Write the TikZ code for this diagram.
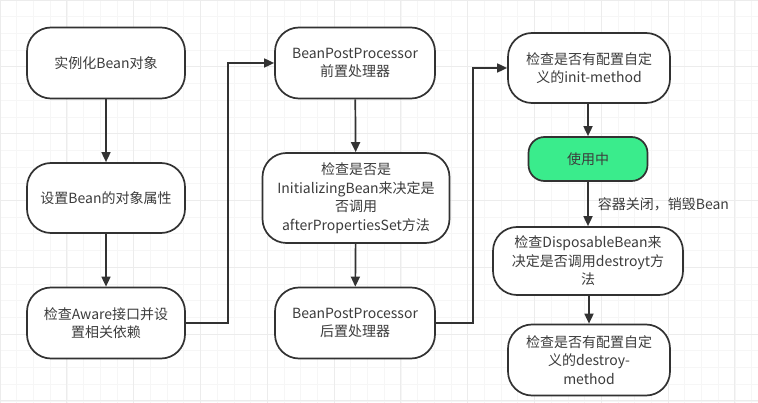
\documentclass[tikz,border=0pt]{standalone}
\usepackage{fontspec}
\setmainfont{Noto Sans CJK SC}
\usetikzlibrary{arrows.meta}
\definecolor{gridminor}{RGB}{246,246,246}
\definecolor{gridmajor}{RGB}{236,236,236}
\definecolor{usegreen}{RGB}{58,236,140}
\definecolor{txt}{RGB}{60,60,60}
\definecolor{edge}{RGB}{50,50,50}
\begin{document}
\begin{tikzpicture}[x=1pt,y=-1pt,
  box/.style={draw=edge,line width=1.7pt,rounded corners=24pt,fill=white,
    align=center,text=txt,font=\fontsize{14}{18.5}\selectfont,inner sep=2pt},
  link/.style={draw=edge,line width=1.7pt,-{Triangle[length=10pt,width=9pt]}},
  lbl/.style={text=txt,font=\fontsize{14}{18.5}\selectfont,inner sep=0pt}]
\useasboundingbox (0,0) rectangle (758,403);
\fill[white] (0,0) rectangle (758,403);
\draw[gridminor,line width=0.6pt] (0,0) grid[step=16.7pt] (758,403);
\draw[gridmajor,line width=0.7pt] (0,0) grid[step=66.8pt] (758,403);
% column 1
\node[box,minimum width=158pt,minimum height=71pt] (n1) at (106,63) {实例化Bean对象};
\node[box,minimum width=158pt,minimum height=70pt] (n2) at (106,198) {设置Bean的对象属性};
\node[box,minimum width=158pt,minimum height=71pt] (n3) at (106,323) {检查Aware接口并设\\置相关依赖};
% column 2
\node[box,minimum width=160pt,minimum height=71pt] (n4) at (355,63) {BeanPostProcessor\\前置处理器};
\node[box,minimum width=187pt,minimum height=90pt] (n5) at (356,198) {检查是否是\\InitializingBean来决定是\\否调用\\afterPropertiesSet方法};
\node[box,minimum width=160pt,minimum height=71pt] (n6) at (355,323) {BeanPostProcessor\\后置处理器};
% column 3
\node[box,minimum width=162pt,minimum height=70pt] (n7) at (589,68) {检查是否有配置自定\\义的init-method};
\node[box,fill=usegreen,rounded corners=16pt,minimum width=119pt,minimum height=44pt] (n8) at (588,159) {使用中};
\node[box,minimum width=190pt,minimum height=68pt] (n9) at (588,261) {检查DisposableBean来\\决定是否调用destroyt方\\法};
\node[box,minimum width=162pt,minimum height=71pt] (n10) at (589,360) {检查是否有配置自定\\义的destroy-\\method};
% connectors
\draw[link] (n1) -- (n2);
\draw[link] (n2) -- (n3);
\draw[link] (n3.east) -- ++(42,0) |- (n4.west);
\draw[link] (n4) -- (n5);
\draw[link] (n5) -- (n6);
\draw[link] (n6.east) -- ++(37,0) |- (n7.west);
\draw[link] (n7.south -| n8.north) -- (n8.north);
\draw[link] (n8.south) -- (n8.south |- n9.north) node[lbl,pos=0.5,anchor=west,xshift=9pt] (l1) {容器关闭，销毁Bean};
\draw[link] (n9.south -| n10.north) -- (n10.north);
\end{tikzpicture}
\end{document}
